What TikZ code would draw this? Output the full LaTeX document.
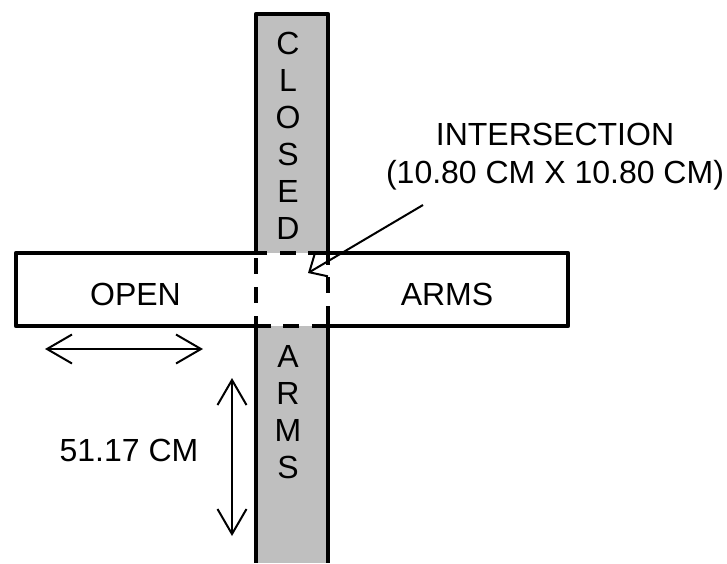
\documentclass[tikz,border=0pt]{standalone}
\usepackage{fontspec}
\setmainfont{Liberation Sans}
\usetikzlibrary{positioning,calc}
\usetikzlibrary{arrows.meta}

\begin{document}
\begin{tikzpicture}[
  x = 1pt,
  y = -1pt,
  wall/.style = {
    line width = 4.4pt,
    line join = round,
  },
  gapwall/.style = {
    wall,
    dash pattern = on 16pt off 13pt,
  },
  label/.style = {
    font = \fontsize{32}{38}\selectfont,
    align = center,
    inner sep = 0pt,
  },
  stack/.style = {
    font = \fontsize{32}{37}\selectfont,
    align = center,
    inner sep = 0pt,
  },
  >={Straight Barb[length=25pt,width=29pt,line width=2pt]},
  dim/.style = {
    <->,
    line width = 2pt,
  },
]

  \useasboundingbox (0,0) rectangle (727,563);

  % closed and open arms
  \coordinate (nw) at (256,253);
  \coordinate (ne) at (328,253);
  \coordinate (sw) at (256,326);
  \coordinate (se) at (328,326);
  \coordinate (top1) at (256,14);
  \coordinate (top2) at (328,14);
  \coordinate (bot1) at (256,563);
  \coordinate (bot2) at (328,563);
  \coordinate (w1) at (16,253);
  \coordinate (w2) at (16,326);
  \coordinate (e1) at (568,253);
  \coordinate (e2) at (568,326);

  \fill[gray!50!white] (top1) rectangle (ne);
  \fill[gray!50!white] (sw) rectangle (bot2);

  \draw[wall] (nw) -- (top1) -- (top2) -- (ne);
  \draw[wall] (sw) -- (bot1);
  \draw[wall] (se) -- (bot2);
  \draw[wall] (267,253) -- (w1) -- (w2) -- (271,326);
  \draw[wall] (308,253) -- (e1) -- (e2) -- (312,326);

  % intersection, dashed
  \draw[gapwall] (280,253) -- (308,253);
  \draw[gapwall] (283,326) -- (312,326);
  \draw[gapwall] (256,258) -- (sw);
  \draw[gapwall] (328,277) -- (328,293);
  \draw[wall] (328,253) -- (328,265);
  \draw[wall] (328,306) -- (se);

  \node[label] (open) at (135.5,294) {OPEN};
  \node[label] (arms) at (447,294) {ARMS};
  \node[stack] (closed) at (288,136) {C\\L\\O\\S\\E\\D};
  \node[stack] (armsv) at (288,412) {A\\R\\M\\S};
  \node[label] (inter) at (555,157) {INTERSECTION\\(10.80 CM X 10.80 CM)};
  \node[label] (size) at (129,450) {51.17 CM};

  % dimension arrows
  \coordinate (h1) at (45,349);
  \coordinate (h2) at (203,349);
  \coordinate (v1) at (232,378);
  \coordinate (v2) at (232,536);
  \draw[dim] (h1) -- (h2);
  \draw[dim] (v1) -- (v2);

  % pointer to the intersection
  \coordinate (tail) at (423,205);
  \coordinate (tip) at (308,273);
  \draw[-{Straight Barb[length=14pt,width=26pt,line width=2pt]},line width=2pt] (tail) -- (tip);
\end{tikzpicture}
\end{document}
